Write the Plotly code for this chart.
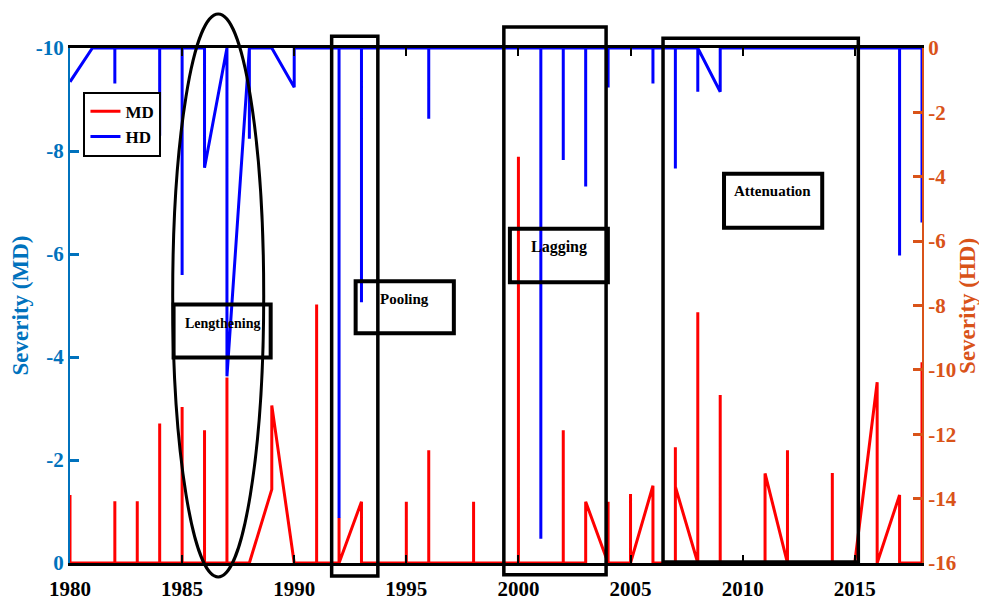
import plotly.graph_objects as go

# ---------------- data ----------------
# MD (meteorological drought) severity path, left axis
md_years = [1980, 1980,
            1982, 1982, 1982, 1983, 1983, 1983, 1984, 1984, 1984,
            1985, 1985, 1985, 1986, 1986, 1986, 1987, 1987, 1987,
            1988, 1989, 1989, 1990,
            1991, 1991, 1991,
            1992, 1992, 1992, 1993, 1993,
            1995, 1995, 1995, 1996, 1996, 1996, 1998, 1998, 1998,
            2000, 2000, 2000, 2002, 2002, 2002,
            2003, 2003, 2004, 2004, 2004,
            2005, 2005, 2005, 2006, 2006,
            2007, 2007, 2007, 2008, 2008, 2008,
            2009, 2009, 2009,
            2011, 2011, 2012, 2012, 2012,
            2014, 2014, 2014,
            2015, 2016, 2016, 2017, 2017, 2018, 2018]
md_values = [-1.32, 0,
             0, -1.2, 0, 0, -1.2, 0, 0, -2.71, 0,
             0, -3.03, 0, 0, -2.58, 0, 0, -3.6, 0,
             0, -1.43, -3.06, 0,
             0, -5.02, 0,
             0, -0.88, 0, -1.19, 0,
             0, -1.19, 0, 0, -2.19, 0, 0, -1.19, 0,
             0, -7.89, 0, 0, -2.58, 0,
             0, -1.19, 0, -1.19, 0,
             0, -1.34, 0, -1.5, 0,
             0, -2.25, -1.48, 0, -4.87, 0,
             0, -3.26, 0,
             0, -1.74, 0, -2.19, 0,
             0, -1.75, 0,
             0, -3.51, 0, -1.32, 0, 0, -3.9]

# HD (hydrological drought) severity path, right axis
hd_years = [1980, 1981,
            1982, 1982, 1982, 1984, 1984, 1984, 1985, 1985, 1985,
            1986, 1986, 1987, 1987, 1988, 1988, 1988,
            1989, 1990, 1990,
            1992, 1992, 1992, 1993, 1993, 1993,
            1996, 1996, 1996,
            2001, 2001, 2001, 2002, 2002, 2002, 2003, 2003, 2003,
            2004, 2004, 2004, 2006, 2006, 2006, 2007, 2007, 2007,
            2008, 2008, 2008, 2009, 2009,
            2017, 2017, 2017, 2018, 2018]
hd_values = [-1.05, 0,
             0, -1.1, 0, 0, -2.73, 0, 0, -7.05, 0,
             0, -3.72, 0, -10.2, 0, -2.82, 0,
             0, -1.22, 0,
             0, -14.6, 0, 0, -7.9, 0,
             0, -2.2, 0,
             0, -15.25, 0, 0, -3.48, 0, 0, -4.3, 0,
             0, -1.23, 0, 0, -1.1, 0, 0, -3.74, 0,
             0, -1.36, 0, -1.36, 0,
             0, -6.45, 0, 0, -5.42]

x_ticks = [1980, 1985, 1990, 1995, 2000, 2005, 2010, 2015]
md_ticks = [0, -2, -4, -6, -8, -10]
md_tick_text = ["0", "-2", "-4", "-6", "-8", "-10"]
hd_ticks = [0, -2, -4, -6, -8, -10, -12, -14, -16]
hd_tick_text = ["0", "-2", "-4", "-6", "-8", "-10", "-12", "-14", "-16"]

# ---------------- styling ----------------
X0, X1 = 1980, 2018
MD0, MD1 = 0, -10
BLUE_AX = "rgb(0,114,189)"
ORANGE_AX = "rgb(217,83,25)"
FONT = "Liberation Serif"


def px(year):
    return (year - X0) / (X1 - X0)


def py(md):
    return (md - MD0) / (MD1 - MD0)


fig = go.Figure()
fig.add_trace(go.Scatter(x=md_years, y=md_values, mode="lines", name="MD",
                         line=dict(color="#ff0000", width=3), yaxis="y"))
fig.add_trace(go.Scatter(x=hd_years, y=hd_values, mode="lines", name="HD",
                         line=dict(color="#0000ff", width=3), yaxis="y2"))

shapes = []
# ellipse around lengthening
shapes.append(dict(type="circle", xref="paper", yref="paper",
                   x0=px(1984.58), x1=px(1988.64), y0=py(0.27), y1=py(-10.66),
                   line=dict(color="black", width=3)))
# big rectangles
for (a, b, c, d) in [(1991.67, 1993.73, 0.25, -10.23),
                     (1999.35, 2003.91, 0.23, -10.41),
                     (2006.45, 2015.16, -0.02, -10.19)]:
    shapes.append(dict(type="rect", xref="paper", yref="paper",
                       x0=px(a), x1=px(b), y0=py(c), y1=py(d),
                       line=dict(color="black", width=3.5)))
# label boxes
for (a, b, c, d) in [(1984.62, 1988.95, -3.99, -5.02),
                     (1992.74, 1997.12, -4.46, -5.47),
                     (1999.62, 2003.99, -5.45, -6.49),
                     (2009.17, 2013.55, -6.51, -7.56)]:
    shapes.append(dict(type="rect", xref="paper", yref="paper",
                       x0=px(a), x1=px(b), y0=py(c), y1=py(d),
                       line=dict(color="black", width=4)))

annotations = []
for (txt, xx, yy, sz) in [("Lengthening", 1986.8, -4.66, 14),
                           ("Pooling", 1994.9, -5.13, 15),
                           ("Lagging", 2001.8, -6.13, 16),
                           ("Attenuation", 2011.35, -7.22, 15)]:
    annotations.append(dict(text=txt, xref="paper", yref="paper",
                            x=px(xx), y=py(yy), showarrow=False,
                            xanchor="center", yanchor="middle",
                            font=dict(family=FONT, size=sz, color="black", weight="bold")))
# right axis title
annotations.append(dict(text="Severity (HD)", xref="paper", yref="paper",
                        x=1.0533, y=0.5, showarrow=False, textangle=-90,
                        xanchor="center", yanchor="middle",
                        font=dict(family=FONT, size=23, color=ORANGE_AX, weight="bold")))

# the page adds an 8 px body margin, so the figure is sized to the remaining space
fig.update_layout(
    width=979, height=596,
    margin=dict(l=61.5, r=64.5, t=40, b=41, autoexpand=False),
    paper_bgcolor="white", plot_bgcolor="white",
    showlegend=True,
    legend=dict(x=0.0158, y=0.915, xanchor="left", yanchor="top",
                bordercolor="black", borderwidth=2, bgcolor="white",
                font=dict(family=FONT, size=17, color="black", weight="bold"),
                itemwidth=30, tracegroupgap=0),
    xaxis=dict(range=[X0, X1], tickvals=x_ticks, ticks="inside", ticklen=8,
               tickwidth=2, tickcolor="black", showline=True, linecolor="black",
               linewidth=2.5, mirror="ticks", showgrid=False, zeroline=False,
               ticklabelstandoff=5, automargin=False,
               tickfont=dict(family=FONT, size=21, color="black", weight="bold")),
    yaxis=dict(range=[MD0, MD1], tickvals=md_ticks, ticktext=md_tick_text,
               ticks="inside", ticklen=9,
               tickwidth=2.5, tickcolor=BLUE_AX, showline=True, linecolor=BLUE_AX,
               linewidth=2, showgrid=False, zeroline=False, automargin=False,
               tickfont=dict(family=FONT, size=21, color=BLUE_AX, weight="bold"),
               title=dict(text="Severity (MD)", standoff=6,
                          font=dict(family=FONT, size=23, color=BLUE_AX, weight="bold"))),
    yaxis2=dict(range=[-16, 0], tickvals=hd_ticks, ticktext=hd_tick_text,
                ticks="inside", ticklen=9,
                tickwidth=2.5, tickcolor=ORANGE_AX, showline=True, linecolor=ORANGE_AX,
                linewidth=2, showgrid=False, zeroline=False, overlaying="y", side="right",
                automargin=False,
                tickfont=dict(family=FONT, size=21, color=ORANGE_AX, weight="bold")),
    shapes=shapes,
    annotations=annotations,
)

fig.write_html("out.html")
